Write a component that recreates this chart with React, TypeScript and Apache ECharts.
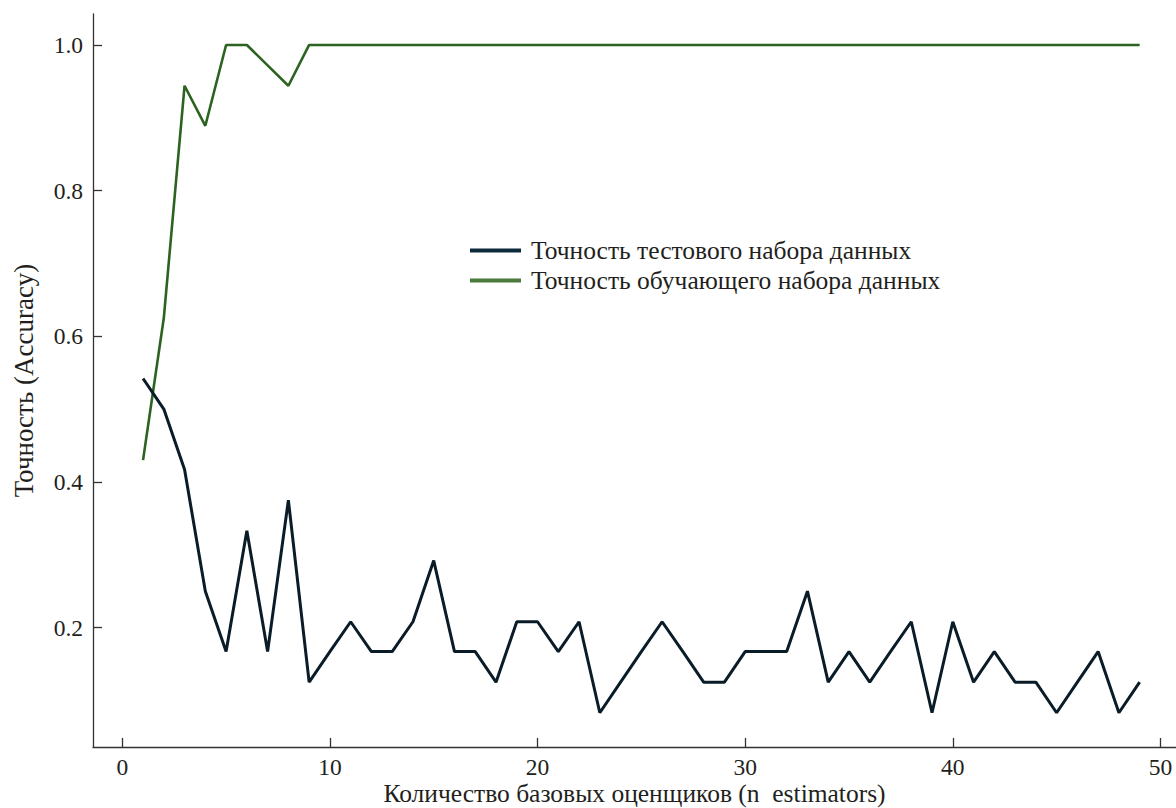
import React, { useEffect, useRef } from "react";
import * as echarts from "echarts";

const nEstimators: number[] = Array.from({ length: 49 }, (_, i) => i + 1);

const testAccuracy: number[] = [
  0.542, 0.5, 0.417, 0.25, 0.167, 0.333, 0.167, 0.375, 0.125, 0.167,
  0.208, 0.167, 0.167, 0.208, 0.292, 0.167, 0.167, 0.125, 0.208, 0.208,
  0.167, 0.208, 0.083, 0.125, 0.167, 0.208, 0.167, 0.125, 0.125, 0.167,
  0.167, 0.167, 0.25, 0.125, 0.167, 0.125, 0.167, 0.208, 0.083, 0.208,
  0.125, 0.167, 0.125, 0.125, 0.083, 0.125, 0.167, 0.083, 0.125,
];

const trainAccuracy: number[] = [
  0.43, 0.625, 0.944, 0.889, 1.0, 1.0, 0.972, 0.944, 1.0, 1.0,
  1.0, 1.0, 1.0, 1.0, 1.0, 1.0, 1.0, 1.0, 1.0, 1.0,
  1.0, 1.0, 1.0, 1.0, 1.0, 1.0, 1.0, 1.0, 1.0, 1.0,
  1.0, 1.0, 1.0, 1.0, 1.0, 1.0, 1.0, 1.0, 1.0, 1.0,
  1.0, 1.0, 1.0, 1.0, 1.0, 1.0, 1.0, 1.0, 1.0,
];

const xTicks: number[] = [0, 10, 20, 30, 40, 50];
const yTicks: number[] = [0.2, 0.4, 0.6, 0.8, 1.0];

const testName = "Точность тестового набора данных";
const trainName = "Точность обучающего набора данных";
const xName = "Количество базовых оценщиков (n\u00a0 estimators)";
const yName = "Точность (Accuracy)";

const FONT = "Liberation Serif";
const TEXT = "#231f20";
const AXIS = "#333333";
const TICK_FS = 23.5;

export default function App() {
  const ref = useRef<HTMLDivElement>(null);
  useEffect(() => {
    if (!ref.current) return;
    const chart = echarts.init(ref.current, undefined, { renderer: "svg" });
    chart.setOption({
      animation: false,
      backgroundColor: "#ffffff",
      textStyle: { fontFamily: FONT, color: TEXT },
      grid: { left: 93, top: 14, right: 0, bottom: 61, outerBoundsMode: "none", containLabel: false },
      legend: {
        orient: "vertical",
        left: 465,
        top: 231,
        icon: "rect",
        itemWidth: 51,
        itemHeight: 4,
        itemGap: 1,
        textStyle: {
          fontFamily: FONT,
          fontSize: 25.5,
          lineHeight: 29,
          color: TEXT,
          padding: [0, 0, 0, 5],
        },
        data: [
          { name: testName, itemStyle: { color: "#0d2b3a" } },
          { name: trainName, itemStyle: { color: "#4b7a3d" } },
        ],
      },
      xAxis: {
        type: "value",
        min: -1.41,
        max: 50.75,
        name: xName,
        nameLocation: "middle",
        nameGap: 33,
        nameMoveOverlap: false,
        nameTextStyle: { fontFamily: FONT, fontSize: 25.5, color: TEXT },
        axisLine: { show: true, onZero: false, lineStyle: { color: AXIS, width: 1.3 } },
        axisTick: {
          show: true,
          inside: true,
          length: 9,
          customValues: xTicks,
          lineStyle: { color: AXIS, width: 1.3 },
        },
        axisLabel: {
          customValues: xTicks,
          fontFamily: FONT,
          fontSize: TICK_FS,
          color: TEXT,
          margin: 8,
        },
        splitLine: { show: false },
      },
      yAxis: {
        type: "value",
        min: 0.036,
        max: 1.0425,
        name: yName,
        nameLocation: "middle",
        nameGap: 56,
        nameMoveOverlap: false,
        nameRotate: 90,
        nameTextStyle: { fontFamily: FONT, fontSize: 27, color: TEXT },
        axisLine: { show: true, onZero: false, lineStyle: { color: AXIS, width: 1.3 } },
        axisTick: {
          show: true,
          inside: true,
          length: 9,
          customValues: yTicks,
          lineStyle: { color: AXIS, width: 1.3 },
        },
        axisLabel: {
          customValues: yTicks,
          fontFamily: FONT,
          fontSize: TICK_FS,
          color: TEXT,
          margin: 10,
          formatter: (v: number) => v.toFixed(1),
        },
        splitLine: { show: false },
      },
      series: [
        {
          name: trainName,
          type: "line",
          data: nEstimators.map((n, i) => [n, trainAccuracy[i]]),
          showSymbol: false,
          symbol: "none",
          color: "#4b7a3d",
          lineStyle: { color: "#2c6320", width: 2.6 },
          z: 2,
        },
        {
          name: testName,
          type: "line",
          data: nEstimators.map((n, i) => [n, testAccuracy[i]]),
          showSymbol: false,
          symbol: "none",
          color: "#0d2b3a",
          lineStyle: { color: "#0a1c28", width: 3 },
          z: 3,
        },
      ],
    });
    return () => chart.dispose();
  }, []);
  return (
    <div
      ref={ref}
      style={{ position: "fixed", left: 0, top: 0, width: 1176, height: 808 }}
    />
  );
}
